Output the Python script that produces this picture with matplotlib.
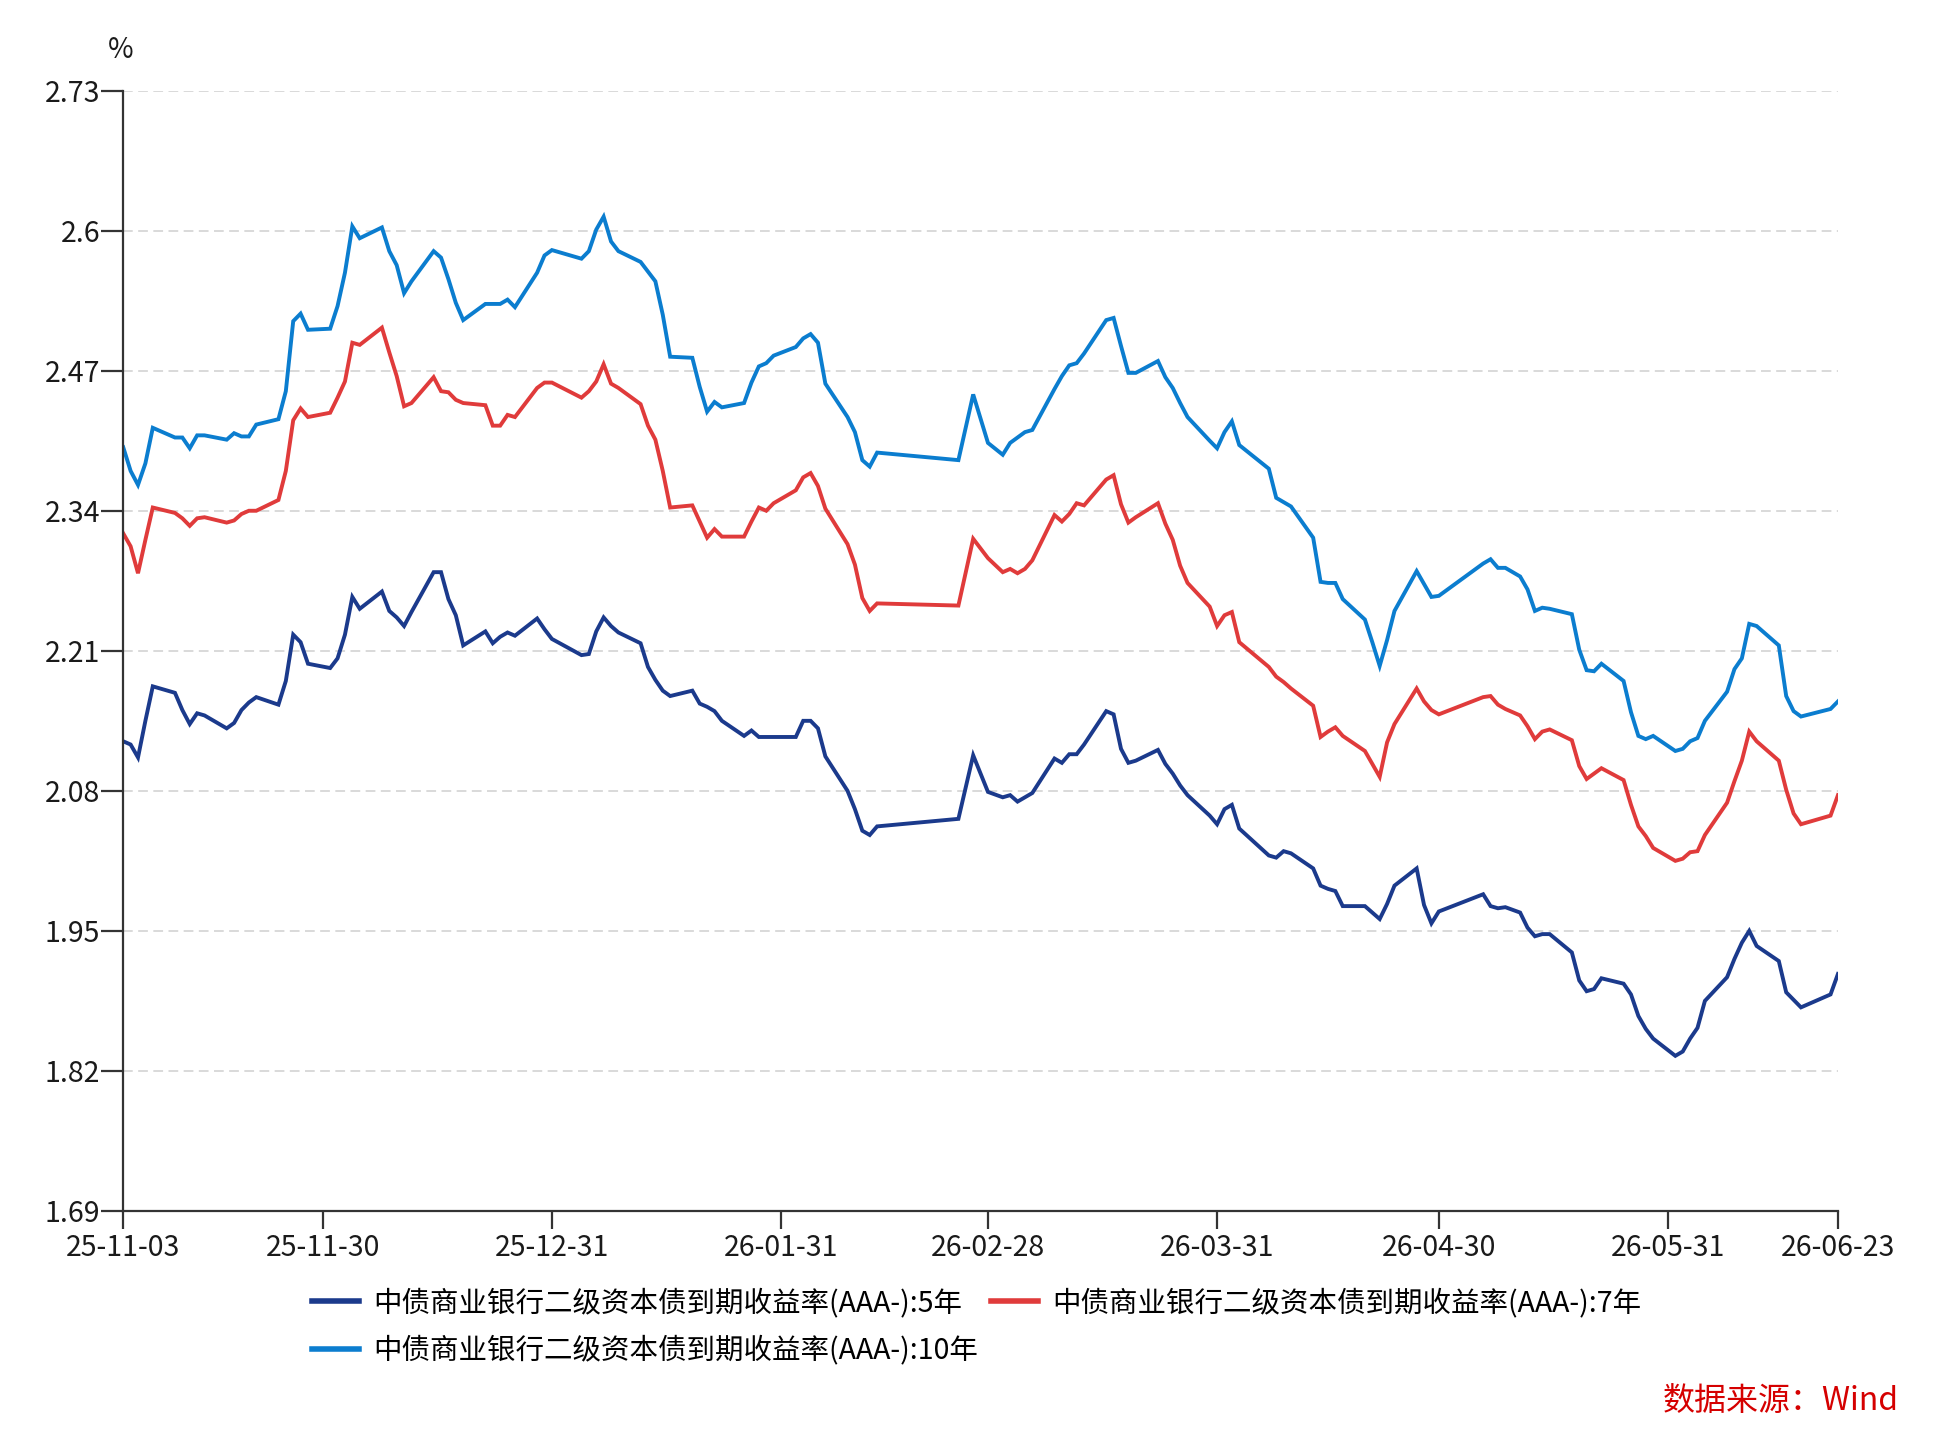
import matplotlib
matplotlib.use('Agg')
import matplotlib.pyplot as plt
import matplotlib.dates as mdates
import pandas as pd

plt.rcParams['font.family'] = ['Noto Sans CJK SC', 'DejaVu Sans']

# trading days (interbank calendar)
dates = [
    '2025-11-03', '2025-11-04', '2025-11-05', '2025-11-06', '2025-11-07',
    '2025-11-10', '2025-11-11', '2025-11-12', '2025-11-13', '2025-11-14',
    '2025-11-17', '2025-11-18', '2025-11-19', '2025-11-20', '2025-11-21',
    '2025-11-24', '2025-11-25', '2025-11-26', '2025-11-27', '2025-11-28',
    '2025-12-01', '2025-12-02', '2025-12-03', '2025-12-04', '2025-12-05',
    '2025-12-08', '2025-12-09', '2025-12-10', '2025-12-11', '2025-12-12',
    '2025-12-15', '2025-12-16', '2025-12-17', '2025-12-18', '2025-12-19',
    '2025-12-22', '2025-12-23', '2025-12-24', '2025-12-25', '2025-12-26',
    '2025-12-29', '2025-12-30', '2025-12-31',
    '2026-01-04', '2026-01-05', '2026-01-06', '2026-01-07', '2026-01-08', '2026-01-09',
    '2026-01-12', '2026-01-13', '2026-01-14', '2026-01-15', '2026-01-16',
    '2026-01-19', '2026-01-20', '2026-01-21', '2026-01-22', '2026-01-23',
    '2026-01-26', '2026-01-27', '2026-01-28', '2026-01-29', '2026-01-30',
    '2026-02-02', '2026-02-03', '2026-02-04', '2026-02-05', '2026-02-06',
    '2026-02-09', '2026-02-10', '2026-02-11', '2026-02-12', '2026-02-13',
    '2026-02-24', '2026-02-26', '2026-02-28',
    '2026-03-02', '2026-03-03', '2026-03-04', '2026-03-05', '2026-03-06',
    '2026-03-09', '2026-03-10', '2026-03-11', '2026-03-12', '2026-03-13',
    '2026-03-16', '2026-03-17', '2026-03-18', '2026-03-19', '2026-03-20',
    '2026-03-23', '2026-03-24', '2026-03-25', '2026-03-26', '2026-03-27',
    '2026-03-30', '2026-03-31', '2026-04-01', '2026-04-02', '2026-04-03',
    '2026-04-07', '2026-04-08', '2026-04-09', '2026-04-10',
    '2026-04-13', '2026-04-14', '2026-04-15', '2026-04-16', '2026-04-17',
    '2026-04-20', '2026-04-21', '2026-04-22', '2026-04-23', '2026-04-24',
    '2026-04-27', '2026-04-28', '2026-04-29', '2026-04-30',
    '2026-05-06', '2026-05-07', '2026-05-08', '2026-05-09',
    '2026-05-11', '2026-05-12', '2026-05-13', '2026-05-14', '2026-05-15',
    '2026-05-18', '2026-05-19', '2026-05-20', '2026-05-21', '2026-05-22',
    '2026-05-25', '2026-05-26', '2026-05-27', '2026-05-28', '2026-05-29',
    '2026-06-01', '2026-06-02', '2026-06-03', '2026-06-04', '2026-06-05',
    '2026-06-08', '2026-06-09', '2026-06-10', '2026-06-11', '2026-06-12',
    '2026-06-15', '2026-06-16', '2026-06-17', '2026-06-18',
    '2026-06-22', '2026-06-23',
]

yield_5y = [
    2.126, 2.123, 2.111, 2.145, 2.177,
    2.171, 2.155, 2.142, 2.152, 2.150,
    2.138, 2.143, 2.155, 2.162, 2.167,
    2.160, 2.182, 2.225, 2.218, 2.198,
    2.194, 2.203, 2.225, 2.260, 2.249,
    2.265, 2.247, 2.241, 2.233, 2.246,
    2.283, 2.283, 2.258, 2.243, 2.215,
    2.228, 2.217, 2.223, 2.227, 2.224,
    2.240, 2.230, 2.221,
    2.206, 2.207, 2.228, 2.241, 2.233, 2.227,
    2.217, 2.195, 2.183, 2.173, 2.168,
    2.173, 2.161, 2.158, 2.154, 2.145,
    2.131, 2.136, 2.130, 2.130, 2.130,
    2.130, 2.145, 2.145, 2.138, 2.112,
    2.080, 2.063, 2.043, 2.039, 2.047,
    2.054, 2.113, 2.079,
    2.074, 2.076, 2.070, 2.074, 2.078,
    2.110, 2.106, 2.114, 2.114, 2.123,
    2.154, 2.151, 2.119, 2.106, 2.108,
    2.118, 2.105, 2.096, 2.085, 2.076,
    2.057, 2.049, 2.063, 2.067, 2.045,
    2.020, 2.018, 2.024, 2.022,
    2.008, 1.992, 1.989, 1.987, 1.973,
    1.973, 1.967, 1.961, 1.975, 1.992,
    2.008, 1.974, 1.957, 1.968,
    1.984, 1.973, 1.971, 1.972,
    1.967, 1.953, 1.945, 1.947, 1.947,
    1.930, 1.904, 1.894, 1.896, 1.906,
    1.901, 1.891, 1.871, 1.859, 1.850,
    1.834, 1.838, 1.850, 1.860, 1.885,
    1.907, 1.924, 1.939, 1.950, 1.936,
    1.922, 1.893, 1.886, 1.879,
    1.891, 1.910,
]

yield_7y = [
    2.319, 2.307, 2.282, 2.313, 2.343,
    2.338, 2.333, 2.326, 2.333, 2.334,
    2.329, 2.331, 2.337, 2.340, 2.340,
    2.350, 2.377, 2.424, 2.435, 2.427,
    2.431, 2.445, 2.460, 2.496, 2.494,
    2.510, 2.487, 2.465, 2.437, 2.440,
    2.464, 2.451, 2.450, 2.443, 2.440,
    2.438, 2.419, 2.419, 2.429, 2.427,
    2.454, 2.459, 2.459,
    2.445, 2.451, 2.460, 2.476, 2.458, 2.454,
    2.439, 2.419, 2.406, 2.377, 2.343,
    2.345, 2.330, 2.315, 2.323, 2.316,
    2.316, 2.330, 2.343, 2.340, 2.347,
    2.359, 2.371, 2.375, 2.363, 2.342,
    2.309, 2.290, 2.259, 2.247, 2.254,
    2.252, 2.314, 2.296,
    2.283, 2.286, 2.282, 2.286, 2.294,
    2.336, 2.330, 2.337, 2.347, 2.345,
    2.369, 2.373, 2.346, 2.329, 2.334,
    2.347, 2.328, 2.313, 2.289, 2.273,
    2.251, 2.233, 2.243, 2.246, 2.218,
    2.195, 2.186, 2.181, 2.175,
    2.159, 2.130, 2.135, 2.139, 2.131,
    2.117, 2.105, 2.093, 2.125, 2.142,
    2.175, 2.163, 2.155, 2.151,
    2.167, 2.168, 2.160, 2.156,
    2.150, 2.140, 2.128, 2.135, 2.137,
    2.127, 2.103, 2.091, 2.096, 2.101,
    2.090, 2.067, 2.047, 2.038, 2.027,
    2.015, 2.017, 2.023, 2.024, 2.039,
    2.069, 2.089, 2.108, 2.135, 2.126,
    2.108, 2.081, 2.059, 2.049,
    2.057, 2.076,
]

yield_10y = [
    2.399, 2.377, 2.364, 2.384, 2.417,
    2.408, 2.408, 2.398, 2.410, 2.410,
    2.406, 2.412, 2.409, 2.409, 2.420,
    2.425, 2.451, 2.516, 2.523, 2.508,
    2.509, 2.530, 2.561, 2.604, 2.593,
    2.603, 2.581, 2.568, 2.542, 2.553,
    2.581, 2.575, 2.555, 2.533, 2.517,
    2.532, 2.532, 2.532, 2.536, 2.529,
    2.561, 2.577, 2.582,
    2.574, 2.581, 2.601, 2.613, 2.590, 2.581,
    2.571, 2.562, 2.553, 2.522, 2.483,
    2.482, 2.455, 2.432, 2.441, 2.436,
    2.440, 2.459, 2.474, 2.477, 2.484,
    2.492, 2.500, 2.504, 2.496, 2.458,
    2.427, 2.413, 2.387, 2.381, 2.394,
    2.387, 2.448, 2.403,
    2.392, 2.403, 2.408, 2.413, 2.415,
    2.453, 2.465, 2.475, 2.477, 2.486,
    2.517, 2.519, 2.493, 2.468, 2.468,
    2.479, 2.464, 2.454, 2.440, 2.427,
    2.405, 2.398, 2.413, 2.423, 2.401,
    2.379, 2.352, 2.348, 2.344,
    2.315, 2.274, 2.273, 2.273, 2.258,
    2.239, 2.218, 2.196, 2.220, 2.247,
    2.284, 2.272, 2.260, 2.261,
    2.291, 2.295, 2.287, 2.287,
    2.279, 2.267, 2.247, 2.250, 2.249,
    2.244, 2.211, 2.192, 2.191, 2.198,
    2.182, 2.153, 2.131, 2.128, 2.131,
    2.117, 2.119, 2.126, 2.129, 2.145,
    2.172, 2.193, 2.203, 2.235, 2.233,
    2.215, 2.168, 2.154, 2.149,
    2.156, 2.163,
]

series_names = [
    '中债商业银行二级资本债到期收益率(AAA-):5年',
    '中债商业银行二级资本债到期收益率(AAA-):7年',
    '中债商业银行二级资本债到期收益率(AAA-):10年',
]
series_colors = ['#1B3A8C', '#E03B3B', '#0B7DCF']

y_ticks = [1.69, 1.82, 1.95, 2.08, 2.21, 2.34, 2.47, 2.60, 2.73]
y_tick_labels = ['1.69', '1.82', '1.95', '2.08', '2.21', '2.34', '2.47', '2.6', '2.73']
x_ticks = ['2025-11-03', '2025-11-30', '2025-12-31', '2026-01-31', '2026-02-28',
           '2026-03-31', '2026-04-30', '2026-05-31', '2026-06-23']

x = pd.to_datetime(dates)

fig = plt.figure(figsize=(19.59, 14.48), dpi=100)
ax = fig.add_axes([0.0629, 0.1637, 0.9382 - 0.0629, 0.9374 - 0.1637])

handles = []
for vals, name, col in zip([yield_5y, yield_7y, yield_10y], series_names, series_colors):
    h, = ax.plot(x, vals, color=col, lw=2.8, label=name, solid_joinstyle='miter')
    handles.append(h)

ax.set_ylim(y_ticks[0], y_ticks[-1])
ax.set_yticks(y_ticks)
ax.set_yticklabels(y_tick_labels)
ax.set_xlim(pd.Timestamp(x_ticks[0]), pd.Timestamp(x_ticks[-1]))
ax.set_xticks(pd.to_datetime(x_ticks))
ax.xaxis.set_major_formatter(mdates.DateFormatter('%y-%m-%d'))

for yt in y_ticks[1:]:
    ax.axhline(yt, color='#d9d9d9', lw=1.4, ls=(0, (5, 2.8)), zorder=0)

for s in ['top', 'right']:
    ax.spines[s].set_visible(False)
for s in ['left', 'bottom']:
    ax.spines[s].set_color('#333333')
    ax.spines[s].set_linewidth(1.6)

ax.tick_params(axis='y', length=15.5, width=1.6, color='#333333', pad=1,
               labelsize=20.5, labelcolor='#1a1a1a')
ax.tick_params(axis='x', length=13, width=1.6, color='#333333', pad=3,
               labelsize=20.5, labelcolor='#1a1a1a')

fig.text(121 / 1959, 1 - 50 / 1448, '%', ha='center', va='center', fontsize=20, color='#1a1a1a')

leg = fig.legend([handles[0], handles[2], handles[1]],
                 [series_names[0], series_names[2], series_names[1]],
                 ncol=2, loc='upper left', bbox_to_anchor=(312 / 1959, 1 - 1288 / 1448),
                 frameon=False, fontsize=20.5, handlelength=1.65, handletextpad=0.5,
                 columnspacing=0.45, labelspacing=0.62, borderpad=0, borderaxespad=0)
for lh in leg.get_lines():
    lh.set_linewidth(4)

fig.text(1899 / 1959, 1 - 1401 / 1448, '数据来源：Wind', ha='right', va='center',
         fontsize=23, color='#D50000')

fig.savefig('out.png', dpi=100)
